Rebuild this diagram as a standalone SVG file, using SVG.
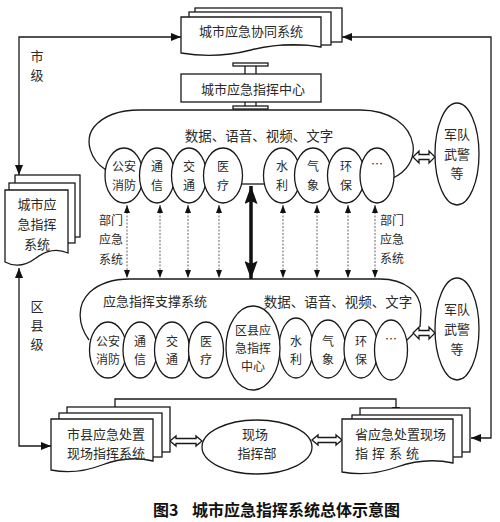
<svg xmlns="http://www.w3.org/2000/svg" width="500" height="522" viewBox="0 0 500 522">
<style>
.ln{fill:none;stroke:#1a1a1a;stroke-width:1.3}
.sh{fill:#fff;stroke:#1a1a1a;stroke-width:1.3}
.t{font-family:"Noto Sans CJK SC",sans-serif;font-size:13px;fill:#2a2a2a;text-anchor:middle;dominant-baseline:central}
.s{font-size:12px}
.dash{fill:none;stroke:#666;stroke-width:1;stroke-dasharray:2 1.5}
.cap{font-family:"Noto Sans CJK SC",sans-serif;font-size:16px;font-weight:bold;fill:#111;dominant-baseline:central}
</style>
<defs>
<marker id="ah" viewBox="0 0 10 8" refX="10" refY="4" markerWidth="10" markerHeight="8" markerUnits="userSpaceOnUse" orient="auto-start-reverse"><path d="M0,0 L10,4 L0,8 z" fill="#111"/></marker>
<marker id="dh" viewBox="0 0 8 6" refX="8" refY="3" markerWidth="8" markerHeight="6" markerUnits="userSpaceOnUse" orient="auto-start-reverse"><path d="M0,0 L8,3 L0,6 z" fill="#111"/></marker>
<marker id="bh" viewBox="0 0 18 13" refX="18" refY="6.5" markerWidth="18" markerHeight="13" markerUnits="userSpaceOnUse" orient="auto-start-reverse"><path d="M0,0 L18,6.5 L0,13 L3,6.5 z" fill="#111"/></marker>
</defs>
<rect width="500" height="522" fill="#fff"/>

<g id="connectors">
<path class="ln" d="M19,175 V37 H181" marker-start="url(#ah)" marker-end="url(#ah)"/>
<path class="ln" d="M342,37 H491 V438 H471" marker-start="url(#ah)" marker-end="url(#ah)"/>
<path class="ln" d="M19,268 V446 H51" marker-start="url(#ah)" marker-end="url(#ah)"/>
<path class="ln" d="M115,417 V399 H396 V417" marker-start="url(#ah)" marker-end="url(#ah)"/>
<g class="dash">
<path d="M127,205 V278" marker-start="url(#dh)" marker-end="url(#dh)"/>
<path d="M160,205 V278" marker-start="url(#dh)" marker-end="url(#dh)"/>
<path d="M188,205 V278" marker-start="url(#dh)" marker-end="url(#dh)"/>
<path d="M219,205 V278" marker-start="url(#dh)" marker-end="url(#dh)"/>
<path d="M283,205 V278" marker-start="url(#dh)" marker-end="url(#dh)"/>
<path d="M317,205 V278" marker-start="url(#dh)" marker-end="url(#dh)"/>
<path d="M348,205 V278" marker-start="url(#dh)" marker-end="url(#dh)"/>
<path d="M375,205 V278" marker-start="url(#dh)" marker-end="url(#dh)"/>
</g>
<path d="M251,186 V279" fill="none" stroke="#111" stroke-width="3.5" marker-start="url(#bh)" marker-end="url(#bh)"/>
<rect class="ln" x="233" y="63" width="35" height="3"/>
<path class="ln" d="M245,66 V74 M256,66 V74 M245,102 V106 M256,102 V106"/>
<rect class="ln" x="233" y="106" width="35" height="3"/>
<polygon class="sh" points="413,157 419,151 419,154.5 429,154.5 429,151 435,157 429,163 429,159.5 419,159.5 419,163"/>
<polygon class="sh" points="413,333 419,327 419,330.5 429,330.5 429,327 435,333 429,339 429,335.5 419,335.5 419,339"/>
<polygon class="sh" points="170,441 176,436 176,438.5 196,438.5 196,436 202,441 196,446 196,443.5 176,443.5 176,446"/>
<polygon class="sh" points="312,440 318,435 318,437.5 336,437.5 336,435 342,440 336,445 336,442.5 318,442.5 318,445"/>
<path class="ln" d="M406,341 L413,334"/>
</g>

<g id="level-labels">
<text class="t" x="37" y="55">市</text>
<text class="t" x="37" y="74">级</text>
<text class="t" x="37" y="305">区</text>
<text class="t" x="37" y="324">县</text>
<text class="t" x="37" y="343">级</text>
<text class="t s" x="111" y="219">部门</text>
<text class="t s" x="111" y="238">应急</text>
<text class="t s" x="111" y="258">系统</text>
<text class="t s" x="392" y="219">部门</text>
<text class="t s" x="392" y="238">应急</text>
<text class="t s" x="392" y="257">系统</text>
</g>

<g id="city-coord">
<rect class="sh" x="195" y="8" width="147" height="34"/>
<rect class="sh" x="189" y="12" width="142" height="33"/>
<path class="sh" d="M181,17 H321 V47 Q286,41 251,50 T181,53 Z"/>
<text class="t" x="251" y="30">城市应急协同系统</text>
</g>

<g id="city-center">
<rect class="sh" x="181" y="74" width="140" height="28"/>
<text class="t" x="253" y="88">城市应急指挥中心</text>
</g>

<g id="city-system">
<rect class="sh" x="15" y="175" width="65" height="62"/>
<rect class="sh" x="9" y="183" width="66" height="60"/>
<path class="sh" d="M5,190 H68 V253 Q52,246 36,258 T5,262 Z"/>
<text class="t" x="37" y="203">城市应</text>
<text class="t" x="37" y="223">急指挥</text>
<text class="t" x="37" y="243">系统</text>
</g>

<g id="upper-cloud">
<path class="ln" d="M106,170 C90,160 84,140 94,127 C104,115 120,110 140,110 L360,110 C390,110 410,125 413,145 C415,160 406,172 393,178"/>
<path class="ln" d="M242,184 H264"/>
<text class="t" x="259" y="135" style="font-size:13.5px">数据、语音、视频、文字</text>
</g>

<g id="upper-depts">
<g id="u-gaxf"><ellipse class="sh" cx="124" cy="175.5" rx="19" ry="27.5"/><text class="t s" x="124" y="165">公安</text><text class="t s" x="124" y="184">消防</text></g>
<g id="u-tx"><ellipse class="sh" cx="157" cy="175.5" rx="17.5" ry="27.5"/><text class="t s" x="157" y="165">通</text><text class="t s" x="157" y="184">信</text></g>
<g id="u-jt"><ellipse class="sh" cx="189" cy="175.5" rx="17.5" ry="27.5"/><text class="t s" x="189" y="165">交</text><text class="t s" x="189" y="184">通</text></g>
<g id="u-yl"><ellipse class="sh" cx="223" cy="175.5" rx="19.5" ry="27.5"/><text class="t s" x="223" y="165">医</text><text class="t s" x="223" y="184">疗</text></g>
<g id="u-sl"><ellipse class="sh" cx="282" cy="175.5" rx="18.5" ry="27.5"/><text class="t s" x="282" y="165">水</text><text class="t s" x="282" y="184">利</text></g>
<g id="u-qx"><ellipse class="sh" cx="313" cy="175.5" rx="18.5" ry="27.5"/><text class="t s" x="313" y="165">气</text><text class="t s" x="313" y="184">象</text></g>
<g id="u-hb"><ellipse class="sh" cx="346" cy="175.5" rx="18.5" ry="27.5"/><text class="t s" x="346" y="165">环</text><text class="t s" x="346" y="184">保</text></g>
<g id="u-etc"><ellipse class="sh" cx="377" cy="175.5" rx="17" ry="27.5"/><text class="t s" x="377" y="163">…</text></g>
</g>

<g id="u-army">
<ellipse class="sh" cx="457" cy="154" rx="22" ry="51"/>
<text class="t" x="457" y="133">军队</text>
<text class="t" x="457" y="153">武警</text>
<text class="t" x="457" y="172">等</text>
</g>

<g id="lower-cloud">
<path class="ln" d="M89,340 C78,325 76,305 90,292 C100,283 112,279 130,279 L380,279 C405,279 420,292 421,310 L420,327"/>
<text class="t" x="155" y="300">应急指挥支撑系统</text>
<text class="t" x="338" y="301" style="font-size:13.5px">数据、语音、视频、文字</text>
</g>

<g id="lower-depts">
<g id="l-gaxf"><ellipse class="sh" cx="108" cy="350" rx="18.5" ry="28"/><text class="t s" x="108" y="340">公安</text><text class="t s" x="108" y="358">消防</text></g>
<g id="l-tx"><ellipse class="sh" cx="140" cy="350" rx="17" ry="28"/><text class="t s" x="140" y="340">通</text><text class="t s" x="140" y="358">信</text></g>
<g id="l-jt"><ellipse class="sh" cx="172" cy="350" rx="17.5" ry="28"/><text class="t s" x="172" y="340">交</text><text class="t s" x="172" y="358">通</text></g>
<g id="l-yl"><ellipse class="sh" cx="206" cy="350" rx="17.5" ry="28"/><text class="t s" x="206" y="340">医</text><text class="t s" x="206" y="358">疗</text></g>
<g id="l-sl"><ellipse class="sh" cx="296" cy="348" rx="17" ry="30"/><text class="t s" x="296" y="340">水</text><text class="t s" x="296" y="358">利</text></g>
<g id="l-qx"><ellipse class="sh" cx="328" cy="349" rx="17.5" ry="29"/><text class="t s" x="328" y="340">气</text><text class="t s" x="328" y="358">象</text></g>
<g id="l-hb"><ellipse class="sh" cx="361" cy="349" rx="17" ry="29"/><text class="t s" x="361" y="340">环</text><text class="t s" x="361" y="358">保</text></g>
<g id="l-etc"><ellipse class="sh" cx="391" cy="350" rx="16.5" ry="30"/><text class="t s" x="391" y="338">…</text></g>
<g id="l-center"><ellipse class="sh" cx="253" cy="348" rx="27" ry="42"/><text class="t s" x="253" y="329">区县应</text><text class="t s" x="253" y="347">急指挥</text><text class="t s" x="253" y="365">中心</text></g>
</g>

<g id="l-army">
<ellipse class="sh" cx="457" cy="329" rx="22" ry="51"/>
<text class="t" x="457" y="308">军队</text>
<text class="t" x="457" y="328">武警</text>
<text class="t" x="457" y="348">等</text>
</g>

<g id="county-site">
<rect class="sh" x="67" y="407" width="103" height="45"/>
<rect class="sh" x="59" y="413" width="103" height="44"/>
<path class="sh" d="M51,419 H153 V461 Q128,455 102,465 T51,470 Z"/>
<text class="t" x="106" y="433">市县应急处置</text>
<text class="t" x="106" y="452">现场指挥系统</text>
</g>

<g id="site-hq">
<ellipse class="sh" cx="257" cy="447" rx="55" ry="27"/>
<text class="t" x="255" y="433">现场</text>
<text class="t" x="257" y="452">指挥部</text>
</g>

<g id="prov-site">
<rect class="sh" x="360" y="408" width="110" height="44"/>
<rect class="sh" x="352" y="415" width="110" height="42"/>
<path class="sh" d="M342,419 H453 V463 Q425,457 397,467 T342,472 Z"/>
<text class="t" x="355" y="433" style="text-anchor:start">省应急处置现场</text>
<text class="t" x="355" y="452" style="text-anchor:start;letter-spacing:4px">指挥系统</text>
</g>

<g id="caption">
<text class="cap" x="153" y="509">图3</text>
<text class="cap" x="192" y="509">城市应急指挥系统总体示意图</text>
</g>
</svg>
